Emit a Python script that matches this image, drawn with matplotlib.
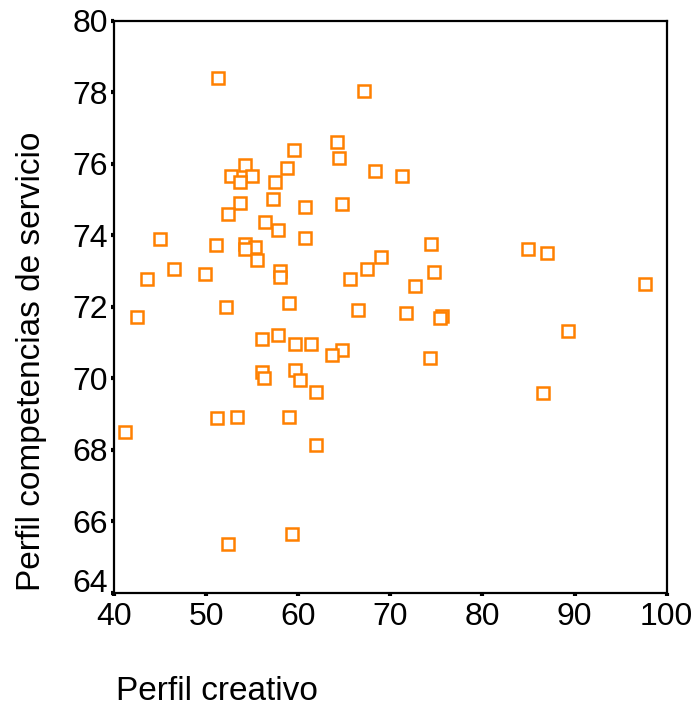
import matplotlib
matplotlib.use("Agg")
import matplotlib.pyplot as plt
from matplotlib.transforms import ScaledTranslation

plt.rcParams['font.family'] = ['Liberation Sans', 'DejaVu Sans']

perfil_creativo = [51.3, 67.1, 64.2, 59.5, 64.4, 54.2, 58.8, 68.3, 52.7, 55.0,
                   71.3, 53.7, 57.5, 57.3, 53.7, 64.7, 60.7, 52.4, 56.4, 57.8,
                   60.7, 45.0, 51.1, 54.2, 74.4, 55.3, 54.2, 84.9, 87.0, 55.5,
                   69.0, 46.5, 67.5, 58.0, 49.9, 74.7, 58.0, 65.6, 43.6, 97.6,
                   72.7, 59.0, 52.2, 66.5, 42.5, 71.7, 75.6, 75.4, 89.3, 57.8,
                   56.1, 59.6, 61.4, 64.7, 74.3, 63.7, 56.1, 59.7, 56.3, 60.2,
                   61.9, 86.6, 51.2, 53.3, 59.0, 41.2, 61.9, 59.3, 52.4]
perfil_servicio = [78.40, 78.03, 76.60, 76.39, 76.16, 75.95, 75.88, 75.80, 75.66, 75.66,
                   75.66, 75.50, 75.50, 75.01, 74.90, 74.86, 74.80, 74.59, 74.37, 74.15,
                   73.93, 73.88, 73.73, 73.74, 73.74, 73.67, 73.61, 73.61, 73.51, 73.30,
                   73.40, 73.06, 73.06, 73.01, 72.92, 72.96, 72.83, 72.77, 72.78, 72.63,
                   72.58, 72.10, 71.98, 71.92, 71.70, 71.82, 71.73, 71.69, 71.33, 71.22,
                   71.11, 70.95, 70.95, 70.80, 70.57, 70.64, 70.19, 70.24, 70.02, 69.95,
                   69.63, 69.60, 68.88, 68.93, 68.93, 68.51, 68.15, 65.65, 65.36]

x_ticks = [40, 50, 60, 70, 80, 90, 100]
y_ticks = [64, 66, 68, 70, 72, 74, 76, 78, 80]

fig = plt.figure(figsize=(6.92, 7.09), dpi=100)
ax = fig.add_axes([114/692, 1-593/709, (666.7-114)/692, (593-20.5)/709])

ax.plot(perfil_creativo, perfil_servicio, linestyle='none', marker='s',
        markersize=8.8, markeredgewidth=1.8, markerfacecolor='white',
        markeredgecolor='#FF8000')

ax.set_xlim(40, 100)
ax.set_ylim(64, 80)
ax.set_xticks(x_ticks)
ax.set_yticks(y_ticks)
ax.set_xticklabels([str(v) for v in x_ticks])
ax.set_yticklabels([str(v) for v in y_ticks])

for s in ax.spines.values():
    s.set_linewidth(1.6)
    s.set_color('black')

ax.tick_params(axis='both', direction='out', length=2.5, width=3, colors='black',
               labelsize=23, labelcolor='black')
ax.tick_params(axis='x', pad=4)
ax.tick_params(axis='y', pad=2)

# lowest y label raised like the original
lbl = ax.get_yticklabels()[0]
lbl.set_transform(lbl.get_transform() + ScaledTranslation(0, 0.13, fig.dpi_scale_trans))

fig.text(116/692, 1-692/709, 'Perfil creativo', fontsize=24, ha='left', va='center')
fig.text(32/692, 1-591/709, 'Perfil competencias de servicio', fontsize=24,
         rotation=90, ha='center', va='bottom')

fig.savefig('out.png', dpi=100)
